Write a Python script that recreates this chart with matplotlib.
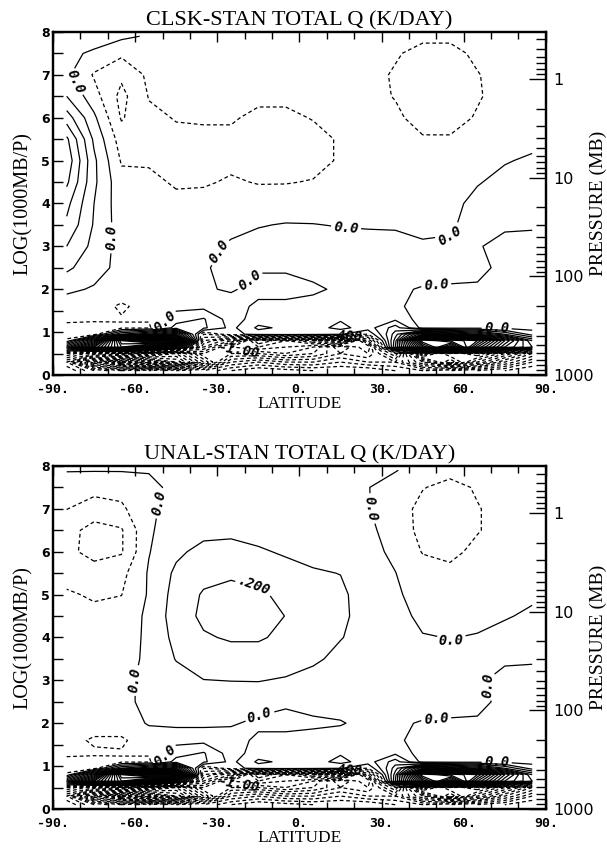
import numpy as np
import matplotlib
matplotlib.use('Agg')
import matplotlib.pyplot as plt

# grid of the model fields (latitude, log(1000mb/p))
lat = np.arange(-85, 86, 10)
height = [0.1, 0.3, 0.5, 0.65, 0.8, 0.95, 1.1, 1.3, 1.6, 2.0, 2.5, 3.0,
          3.5, 4.0, 4.5, 5.0, 5.5, 6.0, 6.5, 7.0, 7.5, 7.9]

# heating differences near the surface (same in both runs), K/day
q_surface = [
    [-0.5, -0.8, -1.0, -0.8, -0.6, -0.5, -0.3, -0.2, -0.25, -0.3, -0.3, -0.3, -0.4, -0.5, -0.4, -0.3, -0.2, -0.1],
    [-0.7, -1.5, -2.0, -2.2, -1.8, -1.2, -0.6, -0.5, -0.6, -0.6, -0.5, -0.6, -0.6, -1.0, -1.5, -1.0, -0.6, -0.3],
    [-0.3, -0.6, -0.8, -1.2, -1.5, -0.9, -0.9, -0.9, -1.0, -0.9, -0.7, -0.8, -0.3, -1.6, -1.2, -1.4, -1.0, -0.6],
    [0.4, 1.2, 2.0, 1.6, 0.6, -0.6, -1.1, -1.2, -1.1, -1.0, -0.6, -0.9, 0.5, 1.8, 2.5, 1.5, 0.8, 0.5],
    [-0.08, 0.6, 2.2, 2.5, 1.8, -0.4, -0.7, -1.4, -1.2, -1.4, -1.5, -0.5, 0.45, 2.2, 2.0, 1.8, 1.0, 0.4],
    [-0.15, -0.15, 0.3, 0.5, 0.8, -0.2, -0.05, 0.05, 0.06, 0.05, 0.01, -0.1, 0.35, 1.0, 0.8, 0.6, 0.3, 0.05],
    [-0.13, -0.15, -0.12, -0.12, 0.15, 0.12, -0.03, 0.12, 0.08, 0.06, 0.13, 0.05, 0.25, -0.04, -0.05, -0.04, -0.03, -0.03],
    [-0.08, -0.08, -0.09, -0.09, 0.05, 0.11, -0.05, 0.05, 0.05, 0.04, 0.09, 0.03, 0.08, -0.05, -0.05, -0.04, -0.03, -0.03],
]

q_clsk_upper = [
    [-0.05, -0.04, -0.12, -0.05, -0.03, -0.03, -0.04, 0.02, 0.02, 0.02, 0.03, 0.02, 0.02, -0.04, -0.04, -0.03, -0.03, -0.03],
    [0.02, -0.01, -0.02, -0.03, -0.03, -0.01, 0.01, -0.03, -0.03, -0.01, 0.01, 0.02, 0.01, -0.005, -0.01, -0.01, -0.01, -0.02],
    [0.12, 0.04, -0.03, -0.04, -0.04, -0.01, 0.03, 0.01, 0.01, 0.02, 0.03, 0.03, 0.03, 0.03, 0.03, 0.02, -0.02, -0.03],
    [0.2, 0.07, -0.04, -0.05, -0.05, -0.02, 0.01, 0.03, 0.04, 0.04, 0.04, 0.04, 0.03, 0.01, 0.01, 0.005, -0.02, -0.03],
    [0.28, 0.09, -0.05, -0.06, -0.06, -0.04, -0.02, -0.005, 0.005, 0.003, -0.005, -0.01, -0.01, -0.02, -0.01, 0.03, 0.01, 0.01],
    [0.33, 0.1, -0.06, -0.07, -0.08, -0.07, -0.06, -0.06, -0.05, -0.05, -0.04, -0.04, -0.04, -0.04, -0.02, 0.02, 0.03, 0.03],
    [0.42, 0.12, -0.07, -0.08, -0.11, -0.11, -0.09, -0.105, -0.105, -0.095, -0.06, -0.05, -0.05, -0.06, -0.05, -0.005, 0.02, 0.03],
    [0.47, 0.12, -0.11, -0.11, -0.13, -0.13, -0.12, -0.13, -0.13, -0.13, -0.09, -0.06, -0.06, -0.07, -0.07, -0.04, -0.005, 0.01],
    [0.42, 0.08, -0.15, -0.12, -0.12, -0.12, -0.12, -0.14, -0.14, -0.13, -0.09, -0.06, -0.07, -0.09, -0.09, -0.06, -0.03, -0.02],
    [0.25, 0.02, -0.21, -0.12, -0.095, -0.09, -0.09, -0.12, -0.12, -0.095, -0.07, -0.06, -0.08, -0.14, -0.14, -0.09, -0.05, -0.03],
    [0.1, -0.06, -0.23, -0.095, -0.07, -0.07, -0.07, -0.08, -0.08, -0.07, -0.06, -0.07, -0.105, -0.18, -0.18, -0.11, -0.06, -0.04],
    [0.02, -0.11, -0.18, -0.08, -0.06, -0.06, -0.06, -0.06, -0.06, -0.06, -0.06, -0.07, -0.11, -0.16, -0.16, -0.105, -0.06, -0.04],
    [0.03, -0.02, -0.08, -0.06, -0.05, -0.05, -0.05, -0.05, -0.05, -0.05, -0.05, -0.06, -0.09, -0.13, -0.13, -0.08, -0.05, -0.04],
    [0.08, 0.06, 0.02, -0.01, -0.03, -0.04, -0.04, -0.04, -0.04, -0.04, -0.04, -0.05, -0.06, -0.08, -0.08, -0.06, -0.04, -0.03],
]

q_unal_upper = [
    [-0.05, -0.12, -0.12, -0.03, -0.03, -0.03, -0.04, 0.02, 0.02, 0.02, 0.03, 0.02, 0.02, -0.04, -0.04, -0.03, -0.03, -0.03],
    [-0.03, -0.03, -0.03, 0.005, 0.01, 0.01, 0.01, -0.02, -0.02, -0.01, -0.005, 0.02, 0.01, -0.005, -0.01, -0.01, -0.01, -0.02],
    [-0.03, -0.03, -0.02, 0.02, 0.03, 0.05, 0.05, 0.04, 0.01, 0.02, 0.03, 0.04, 0.03, 0.03, 0.03, 0.02, -0.02, -0.03],
    [-0.04, -0.04, -0.02, 0.02, 0.06, 0.098, 0.102, 0.104, 0.09, 0.06, 0.05, 0.05, 0.04, 0.03, 0.02, 0.01, -0.02, -0.03],
    [-0.05, -0.05, -0.04, 0.02, 0.105, 0.15, 0.16, 0.16, 0.15, 0.12, 0.07, 0.06, 0.04, 0.02, 0.01, 0.02, 0.01, 0.01],
    [-0.06, -0.06, -0.05, 0.02, 0.13, 0.19, 0.21, 0.21, 0.18, 0.15, 0.105, 0.06, 0.04, 0.005, -0.002, 0.005, 0.02, 0.02],
    [-0.08, -0.08, -0.06, 0.02, 0.15, 0.22, 0.25, 0.24, 0.198, 0.15, 0.12, 0.06, 0.03, -0.02, -0.03, -0.02, -0.005, 0.01],
    [-0.09, -0.11, -0.102, 0.01, 0.14, 0.21, 0.24, 0.22, 0.17, 0.14, 0.12, 0.05, 0.015, -0.04, -0.05, -0.04, -0.03, -0.01],
    [-0.13, -0.15, -0.13, 0.01, 0.12, 0.17, 0.18, 0.16, 0.13, 0.11, 0.098, 0.04, 0.002, -0.06, -0.08, -0.06, -0.05, -0.03],
    [-0.17, -0.24, -0.21, -0.005, 0.08, 0.13, 0.13, 0.11, 0.09, 0.07, 0.06, 0.03, -0.02, -0.105, -0.12, -0.08, -0.06, -0.04],
    [-0.16, -0.24, -0.21, -0.01, 0.04, 0.07, 0.08, 0.07, 0.06, 0.05, 0.04, 0.02, -0.04, -0.13, -0.16, -0.105, -0.07, -0.05],
    [-0.098, -0.14, -0.12, -0.01, 0.02, 0.04, 0.05, 0.05, 0.04, 0.03, 0.03, 0.005, -0.05, -0.13, -0.16, -0.105, -0.07, -0.05],
    [-0.05, -0.07, -0.06, -0.02, 0.02, 0.03, 0.03, 0.03, 0.03, 0.02, 0.02, 0.003, -0.04, -0.095, -0.13, -0.09, -0.06, -0.05],
    [0.005, 0.005, 0.005, 0.005, 0.01, 0.02, 0.02, 0.02, 0.02, 0.02, 0.01, 0.01, 0.005, -0.04, -0.07, -0.06, -0.05, -0.04],
]

lat_ticks = [-90, -60, -30, 0, 30, 60, 90]
lat_ticklabels = ['-90.', '-60.', '-30.', '0.', '30.', '60.', '90.']
p_major = [1, 10, 100, 1000]
p_minor = [0.4, 0.5, 0.6, 0.7, 0.8, 0.9, 2, 3, 4, 5, 6, 7, 8, 9,
           20, 30, 40, 50, 60, 70, 80, 90, 200, 300, 400, 500, 600, 700, 800, 900]

levels = np.round(np.arange(-25, 26) * 0.1, 1)
label_fmt = {0.0: '0.0', -1.0: '-1.00', 0.2: '.200', -0.4: '-.400'}

plt.rcParams['lines.dashed_pattern'] = [3.0, 2.2]
serif = ['Liberation Serif', 'DejaVu Serif']


def draw_panel(ax, q, title, label_spots):
    plain = [l for l in levels if l not in label_fmt]
    ax.contour(lat, height, q, levels=plain, colors='k', linewidths=0.9)
    texts = []
    for lev in label_fmt:
        cs = ax.contour(lat, height, q, levels=[lev], colors='k', linewidths=0.9)
        spots = label_spots.get(lev)
        if spots:
            texts += list(cs.clabel(fmt=label_fmt, fontsize=10, inline=True,
                                    manual=spots))
    for t in texts:
        t.set_family('DejaVu Sans Mono')
        t.set_style('italic')
        t.set_weight('bold')

    ax.set_xlim(-90, 90)
    ax.set_ylim(0, 8)
    ax.set_xticks(lat_ticks)
    ax.set_xticklabels(lat_ticklabels, family='DejaVu Sans Mono',
                       weight='bold', fontsize=9.5)
    ax.set_xticks(np.arange(-80, 90, 10), minor=True)
    ax.set_yticks(range(9))
    ax.set_yticklabels([str(i) for i in range(9)], family='DejaVu Sans',
                       weight='bold', fontsize=9)
    ax.set_yticks(np.arange(0.5, 8, 1), minor=True)
    ax.tick_params(axis='x', which='major', direction='in', length=7, width=1,
                   top=True, pad=6)
    ax.tick_params(axis='x', which='minor', direction='in', length=5, width=1,
                   top=True)
    ax.tick_params(axis='y', which='both', direction='in', length=7, width=1,
                   right=False, pad=2)
    for sp in ax.spines.values():
        sp.set_linewidth(1.6)

    ax.set_title(title, family=serif, fontsize=16, pad=5)
    ax.set_xlabel('LATITUDE', family=serif, fontsize=12.5, labelpad=-0.5)
    ax.set_ylabel('LOG(1000MB/P)', family=serif, fontsize=14.5, labelpad=6)

    ax2 = ax.twinx()
    ax2.set_ylim(0, 8)
    ax2.set_yticks(np.log(1000.0 / np.array(p_major)))
    ax2.set_yticklabels([str(p) for p in p_major], family='DejaVu Sans',
                        fontsize=11.5)
    ax2.set_yticks(np.log(1000.0 / np.array(p_minor)), minor=True)
    ax2.tick_params(axis='y', which='major', direction='in', length=12, width=1, pad=5)
    ax2.tick_params(axis='y', which='minor', direction='in', length=7, width=1)
    ax2.set_ylabel('PRESSURE (MB)', family=serif, fontsize=14)
    ax2.yaxis.set_label_coords(1.088, 0.5)
    for sp in ax2.spines.values():
        sp.set_linewidth(1.6)


fig = plt.figure(figsize=(6.07, 8.52), dpi=100)
ax_top = fig.add_axes([0.0873, 0.5599, 0.812, 0.4026])
ax_bot = fig.add_axes([0.0873, 0.0505, 0.812, 0.4026])

q_clsk = np.array(q_surface + q_clsk_upper)
q_unal = np.array(q_surface + q_unal_upper)

draw_panel(ax_top, q_clsk, 'CLSK-STAN TOTAL Q (K/DAY)',
           {0.0: [(-83, 6.8), (-72, 3.2), (-30, 2.9), (17, 3.4), (58, 3.1),
                  (-18, 2.2), (50, 2.05), (-46, 1.1), (72, 0.9)],
            -1.0: [(-22, 0.6)], -0.4: [(15, 0.75)]})
draw_panel(ax_bot, q_unal, 'UNAL-STAN TOTAL Q (K/DAY)',
           {0.0: [(-56, 7.2), (-63, 3.0), (25, 7.0), (55, 4.0), (-15, 2.3),
                  (50, 2.05), (63, 2.8), (-46, 1.1), (72, 0.9)],
            0.2: [(-17, 5.1)], -1.0: [(-22, 0.6)], -0.4: [(15, 0.75)]})

fig.savefig('out.png', dpi=100)
